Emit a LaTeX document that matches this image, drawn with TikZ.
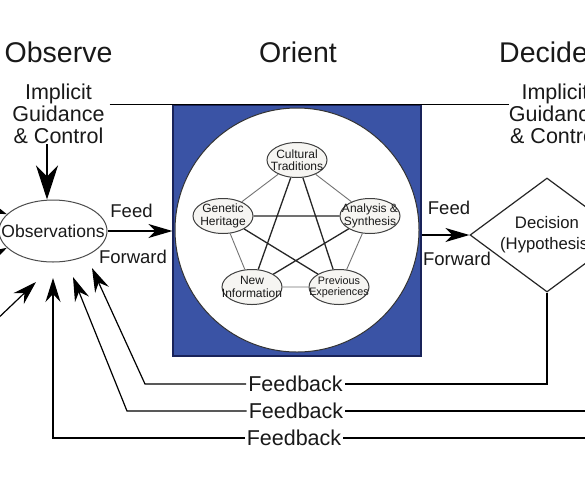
\documentclass[tikz,border=0pt]{standalone}
\usepackage{fontspec}
\setmainfont{Liberation Sans}
\usetikzlibrary{arrows.meta,shapes.geometric}
\definecolor{orientblue}{RGB}{58,83,165}
\definecolor{orientedge}{RGB}{25,35,90}
\definecolor{bubblefill}{RGB}{246,245,242}

\begin{document}
\begin{tikzpicture}[x=1pt,y=-1pt]
\tikzstyle{every node}+=[inner sep=0pt, text=black!90]
\tikzstyle{title}=[font=\fontsize{28.5}{30}\selectfont, anchor=base]
\tikzstyle{guide}=[font=\fontsize{21.5}{22}\selectfont, align=center]
\tikzstyle{ffword}=[font=\fontsize{18.5}{20}\selectfont, anchor=base]
\tikzstyle{fbword}=[font=\fontsize{21.5}{22}\selectfont, inner sep=2pt]
\tikzstyle{bubble}=[ellipse, draw=black!75, fill=bubblefill, line width=1pt, minimum width=60, minimum height=35, inner xsep=-10pt, inner ysep=0pt, align=center, font=\fontsize{12}{12.5}\selectfont]
\tikzstyle{ff}=[line width=1.3pt, -{Stealth[length=24pt,width=14pt,inset=7pt]}]
\tikzstyle{fb}=[line width=1.2pt, -{Stealth[length=24pt,width=15pt,inset=8pt]}]
\useasboundingbox (0,0) rectangle (585,485);
\clip (0,0) rectangle (585,485);
\fill[white] (0,0) rectangle (585,485);

% titles
\node[title] (obsT) at (58.5,62) {Observe};
\node[title] (oriT) at (298,62) {Orient};
\node[title, anchor=base west] (decT) at (499,62) {Decide};

% implicit guidance
\node[guide] (igcL) at (58.5,114) {Implicit\\Guidance\\\& Control};
\node[guide] (igcR) at (555,114) {Implicit\\Guidance\\\& Control};

% observe
\node[ellipse, draw=black!70, line width=1pt, minimum width=108, minimum height=62, inner xsep=-14pt, font=\fontsize{17.5}{18}\selectfont] (obs) at (53,231) {Observations};

% orient
\node[fill=orientblue, draw=orientedge, line width=1.2pt, minimum width=248, minimum height=251] (orient) at (297,230.5) {};
\node[circle, fill=white, draw=black!80, line width=1pt, minimum size=244] (globe) at (297,230) {};
\node[bubble] (cult) at (297,160) {Cultural\\Traditions};
\node[bubble] (gene) at (223,216) {Genetic\\Heritage};
\node[bubble] (anal) at (370,216) {Analysis \&\\Synthesis};
\node[bubble] (newi) at (252,287) {New\\Information};
\node[bubble, font=\fontsize{10.8}{11.5}\selectfont] (prev) at (339,287) {Previous\\Experiences};
\draw[black!55, line width=0.9pt] (cult) -- (gene) (cult) -- (anal) (gene) -- (newi) (anal) -- (prev) (newi) -- (prev);
\draw[black!85, line width=1.3pt] (cult) -- (newi) (cult) -- (prev) (gene) -- (anal) (gene) -- (prev) (anal) -- (newi);

% decide
\node[diamond, draw=black!85, line width=1.2pt, minimum width=154, minimum height=114, shape aspect=1.35, align=center, font=\fontsize{16.7}{21}\selectfont] (dec) at (547,235) {Decision\\(Hypothesis)};

% feed forward
\node[ffword] (feed1) at (131.5,217) {Feed};
\node[ffword] (fwd1) at (133,263) {Forward};
\node[ffword] (feed2) at (449,214) {Feed};
\node[ffword] (fwd2) at (457,265) {Forward};
\draw[ff] (obs.east) -- (obs.east -| orient.west);
\draw[ff] (dec.west -| orient.east) -- (dec.west);
\draw[line width=1.4pt, -{Stealth[length=34pt,width=22pt,inset=11pt]}] ([xshift=-11.5pt]igcL.south) -- ([xshift=-6pt]obs.north);
\draw[line width=1.2pt] ([xshift=5pt]igcL.east |- orient.north) -- (igcR.west |- orient.north);

% feedback
\node[fbword] (fb1) at (295.5,384) {Feedback};
\node[fbword] (fb2) at (296,411) {Feedback};
\node[fbword] (fb3) at (294,438) {Feedback};
\coordinate (bend1) at (145,384);
\coordinate (tip1) at (92,268);
\coordinate (bend2) at (127,411);
\coordinate (tip2) at (73,277);
\coordinate (bend3) at (53,438);
\coordinate (tip3) at (53,278);
\coordinate (off2) at (590,411);
\coordinate (off3) at (590,438);
\draw[line width=1.2pt] (dec.south) |- (fb1.east);
\draw[fb] (fb1.west) -- (bend1) -- (tip1);
\draw[line width=1.2pt] (off2) -- (fb2.east);
\draw[fb] (fb2.west) -- (bend2) -- (tip2);
\draw[line width=1.2pt] (off3) -- (fb3.east);
\draw[fb] (fb3.west) -- (bend3) -- (tip3);

% from outside
\coordinate (in1) at (-30,200);
\coordinate (in2) at (-30,268);
\coordinate (in3) at (-8,324);
\coordinate (tip0) at (36,282);
\draw[fb] (in1) -- (obs.160);
\draw[fb] (in2) -- (obs.200);
\draw[fb] (in3) -- (tip0);
\end{tikzpicture}
\end{document}
